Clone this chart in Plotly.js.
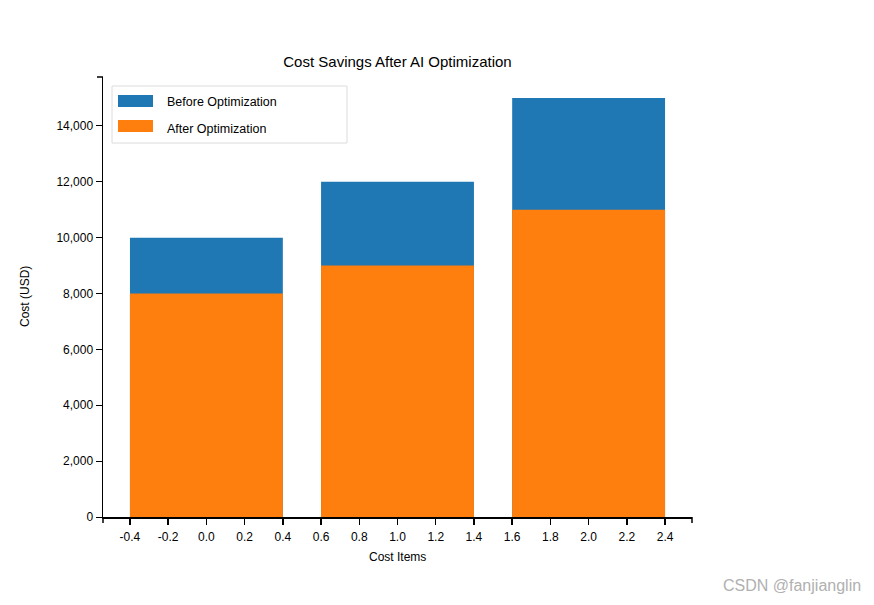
<!DOCTYPE html>
<html>
<head>
<meta charset="utf-8">
<script src="https://cdn.plot.ly/plotly-3.0.1.min.js"></script>
<style>html,body{margin:0;padding:0;background:#fff;}#chart{width:874px;height:605px;}</style>
</head>
<body>
<div id="chart"></div>
<script>
const positions = [0, 1, 2];
const beforeValues = [10000, 12000, 15000];
const afterValues = [8000, 9000, 11000];
const seriesNames = ["Before Optimization", "After Optimization"];
const seriesColors = ["#1f77b4", "#ff7f0e"];
const xTickValues = [-0.4, -0.2, 0.0, 0.2, 0.4, 0.6, 0.8, 1.0, 1.2, 1.4, 1.6, 1.8, 2.0, 2.2, 2.4];
const yTickValues = [0, 2000, 4000, 6000, 8000, 10000, 12000, 14000];
const titleText = "Cost Savings After AI Optimization";
const xTitle = "Cost Items";
const yTitle = "Cost (USD)";
const watermark = "CSDN @fanjianglin";

const W = 874, H = 605;
const L = 103, R = 692, T = 77, B = 517;
const pw = R - L, ph = B - T;
const px = v => (v - L) / pw;
const py = v => (B - v) / ph;
const font = "Liberation Sans, Arial, sans-serif";

const traces = [
  {type: "bar", x: positions, y: beforeValues, width: 0.8, name: seriesNames[0],
   marker: {color: seriesColors[0], line: {width: 0}}, hoverinfo: "none"},
  {type: "bar", x: positions, y: afterValues, width: 0.8, name: seriesNames[1],
   marker: {color: seriesColors[1], line: {width: 0}}, hoverinfo: "none"}
];

const shapes = [
  // legend box
  {type: "rect", xref: "paper", yref: "paper", x0: px(112), x1: px(347), y0: py(143), y1: py(86),
   line: {color: "#dcdcdc", width: 1}, fillcolor: "rgba(255,255,255,0)", layer: "above"},
  {type: "rect", xref: "paper", yref: "paper", x0: px(118), x1: px(153), y0: py(107), y1: py(95),
   line: {width: 0}, fillcolor: seriesColors[0], layer: "above"},
  {type: "rect", xref: "paper", yref: "paper", x0: px(118), x1: px(153), y0: py(132), y1: py(120),
   line: {width: 0}, fillcolor: seriesColors[1], layer: "above"},
  // outer ticks (d3 style)
  {type: "line", xref: "paper", yref: "paper", x0: 0, x1: 0, y0: 0, y1: py(523), line: {color: "#000", width: 1.5}},
  {type: "line", xref: "paper", yref: "paper", x0: 1, x1: 1, y0: 0, y1: py(523), line: {color: "#000", width: 1.5}},
  {type: "line", xref: "paper", yref: "paper", x0: px(97), x1: 0, y0: 1, y1: 1, line: {color: "#000", width: 1.5}}
];

const annotations = [
  {xref: "paper", yref: "paper", x: px(165), y: py(102), xanchor: "left", yanchor: "middle",
   text: seriesNames[0], showarrow: false, font: {family: font, size: 12.5, color: "#000"}},
  {xref: "paper", yref: "paper", x: px(165), y: py(128.5), xanchor: "left", yanchor: "middle",
   text: seriesNames[1], showarrow: false, font: {family: font, size: 12.5, color: "#000"}},
  {xref: "paper", yref: "paper", x: px(397.5), y: py(557), xanchor: "center", yanchor: "middle",
   text: xTitle, showarrow: false, font: {family: font, size: 12, color: "#000"}},
  {xref: "paper", yref: "paper", x: px(25), y: py(297), xanchor: "center", yanchor: "middle", textangle: -90,
   text: yTitle, showarrow: false, font: {family: font, size: 12, color: "#000"}},
  {xref: "paper", yref: "paper", x: px(791.5), y: py(585), xanchor: "center", yanchor: "middle",
   text: watermark, showarrow: false, font: {family: font, size: 16, color: "#b0b0b0"}}
];

const layout = {
  width: W, height: H,
  margin: {l: L, r: W - R, t: T, b: H - B, pad: 0},
  paper_bgcolor: "#fff", plot_bgcolor: "#fff",
  barmode: "overlay",
  showlegend: false,
  font: {family: font, size: 12, color: "#000"},
  title: {text: titleText, font: {family: font, size: 15, color: "#000"},
          x: 397.5 / W, xanchor: "center", y: 1 - 62 / H, yanchor: "middle"},
  xaxis: {range: [-0.541, 2.541], tickmode: "array", tickvals: xTickValues,
          ticktext: xTickValues.map(v => v.toFixed(1)),
          showgrid: false, zeroline: false, showline: true, linecolor: "#000", linewidth: 1.5,
          ticks: "outside", ticklen: 6, tickwidth: 1.5, tickcolor: "#000", ticklabelstandoff: 2,
          tickfont: {family: font, size: 12, color: "#000"}, fixedrange: true},
  yaxis: {range: [0, 15750], tickmode: "array", tickvals: yTickValues,
          ticktext: yTickValues.map(v => v.toLocaleString("en-US")),
          showgrid: false, zeroline: false, showline: true, linecolor: "#000", linewidth: 1.5,
          ticks: "outside", ticklen: 6, tickwidth: 1, tickcolor: "#000",
          tickfont: {family: font, size: 12, color: "#000"}, fixedrange: true},
  shapes: shapes,
  annotations: annotations
};

Plotly.newPlot("chart", traces, layout, {displayModeBar: false, staticPlot: true});
</script>
</body>
</html>
